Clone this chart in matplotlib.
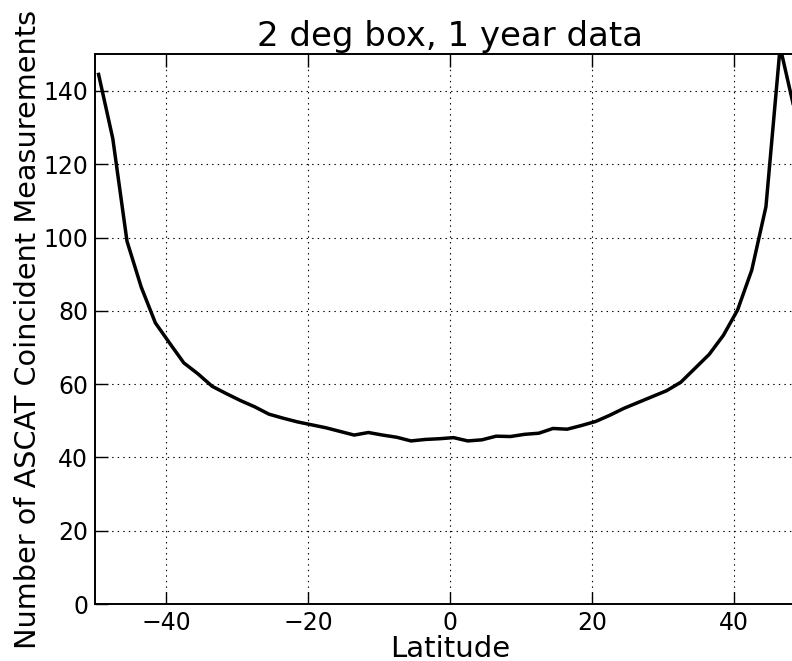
import matplotlib
matplotlib.use("Agg")
import matplotlib.pyplot as plt
import numpy as np

# latitude bin centres (2 deg boxes)
lat = [-49.5, -47.5, -45.5, -43.5, -41.5, -39.5, -37.5, -35.5, -33.5, -31.5,
       -29.5, -27.5, -25.5, -23.5, -21.5, -19.5, -17.5, -15.5, -13.5, -11.5,
       -9.5, -7.5, -5.5, -3.5, -1.5, 0.5, 2.5, 4.5, 6.5, 8.5,
       10.5, 12.5, 14.5, 16.5, 18.5, 20.5, 22.5, 24.5, 26.5, 28.5,
       30.5, 32.5, 34.5, 36.5, 38.5, 40.5, 42.5, 44.5, 46.5, 48.5]

# number of coincident measurements per bin
counts = [144.5, 127.0, 99.0, 86.5, 76.7, 71.2, 65.8, 62.8, 59.4, 57.4,
          55.5, 53.8, 51.8, 50.7, 49.7, 48.9, 48.1, 47.1, 46.1, 46.8,
          46.1, 45.5, 44.5, 44.9, 45.1, 45.4, 44.5, 44.8, 45.8, 45.7,
          46.3, 46.6, 47.9, 47.7, 48.7, 49.8, 51.5, 53.4, 55.0, 56.6,
          58.2, 60.5, 64.3, 68.1, 73.3, 80.2, 91.1, 108.4, 152.0, 135.0]

plt.rcParams['lines.scale_dashes'] = False

fig = plt.figure(figsize=(7.92, 6.61), dpi=100)
# axes runs past the right edge, like the cropped original
ax = fig.add_axes([0.12, 0.0862, 0.8964, 0.8317])

ax.plot(lat, counts, color="black", linewidth=2.5)

ax.set_xlim(-50, 50)
ax.set_ylim(0, 150)
ax.set_xticks([-40, -20, 0, 20, 40])
ax.set_yticks(np.arange(0, 141, 20))

ax.grid(True, color="black", linestyle=(0, (1, 3)), linewidth=0.8)
ax.tick_params(direction="in", length=9, width=1, labelsize=17, pad=5,
               top=True, right=True)
for s in ax.spines.values():
    s.set_linewidth(1.4)

ax.set_title("2 deg box, 1 year data", fontsize=24.5)
ax.set_xlabel("Latitude", fontsize=21, labelpad=0)
ax.set_ylabel("Number of ASCAT Coincident Measurements", fontsize=20.7, labelpad=1)

fig.savefig("out.png", dpi=100)
